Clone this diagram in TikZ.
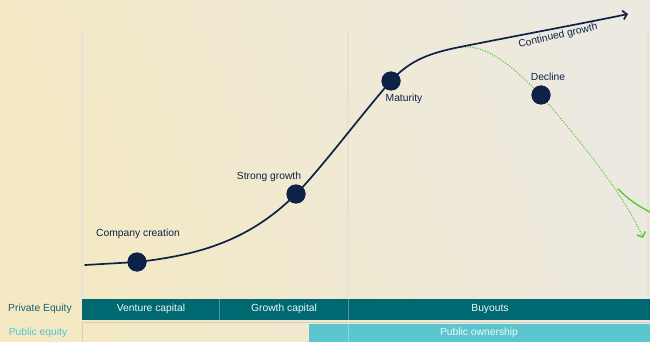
\documentclass[tikz,border=0pt]{standalone}
\usepackage{fontspec}
\setmainfont{Liberation Sans}
\usepackage{tikz}
\usetikzlibrary{arrows.meta}
\definecolor{navy}{HTML}{0D2246}
\definecolor{bgL}{HTML}{F4E9C3}
\definecolor{bgR}{HTML}{ECE9E1}
\definecolor{pecol}{HTML}{006871}
\definecolor{pubcol}{HTML}{5BC6CF}
\definecolor{pelbl}{HTML}{15607A}
\definecolor{publbl}{HTML}{4FC3D5}
\definecolor{lgreen}{HTML}{5CC83A}
\definecolor{grid}{HTML}{E6E2D6}
\definecolor{edge}{HTML}{D3CEC2}

\begin{document}
\begin{tikzpicture}[line cap=round,line join=round,x=1pt,y=-1pt,
  >={Straight Barb[length=4pt,width=9pt]},
  dot/.style={circle,fill=navy,inner sep=0pt,minimum size=19pt},
  lbl/.style={font=\fontsize{10.3}{12}\selectfont,text=navy},
  barlbl/.style={font=\fontsize{10.3}{12}\selectfont,text=white!90!pubcol},
  curve/.style={navy,line width=1.7pt},
  decl/.style={lgreen,line width=1.6pt,dash pattern=on 0.01pt off 2.6pt},
  vline/.style={grid,line width=1.4pt}]
\useasboundingbox (0,0) rectangle (650,342);
\shade[left color=bgL,right color=bgR,shading angle=110] (0,0) rectangle (650,342);

% stage lines
\draw[vline] (82,32) -- (82,298);
\draw[vline] (348,32) -- (348,298);
\draw[vline] (648,32) -- (648,298);

% life cycle
\coordinate (start) at (85,265);
\coordinate (fork) at (460,47);
\coordinate (top) at (628,14);
\coordinate (low) at (643,238);
\coordinate (side) at (618,189);
\coordinate (sideend) at (655,215);
\node[dot] (creation) at (137,262) {};
\node[dot] (growth) at (296,194) {};
\node[dot] (maturity) at (391,81) {};
\node[dot] (decline) at (541,95) {};

\draw[decl,->] (fork) .. controls (490,44) and (515,70) .. (decline.center)
  .. controls (575,135) and (625,195) .. (low);
\draw[lgreen,line width=1.4pt] (side) .. controls (632,202) .. (sideend);
\draw[curve] (start) -- (creation.center)
  .. controls (200,255) and (250,240) .. (growth.center)
  .. controls (320,170) and (365,110) .. (maturity.center)
  .. controls (410,60) and (430,53) .. (fork);
\draw[curve,->] (fork) .. controls (520,35) and (580,24) .. (top);
\node[dot] at (creation) {};
\node[dot] at (growth) {};
\node[dot] at (maturity) {};
\node[dot] at (decline) {};

\node[lbl] (creationlbl) at (138,234) {Company creation};
\node[lbl] (growthlbl) at (269,177) {Strong growth};
\node[lbl] (maturitylbl) at (404,99) {Maturity};
\node[lbl] (declinelbl) at (548,77) {Decline};
\node[lbl,rotate=13] (toplbl) at (558,36) {Continued growth};

% private equity row
\fill[pecol] (82,299) rectangle (650,320);
\draw[white,opacity=0.3,line width=0.8pt] (219,299) -- (219,320);
\draw[white,opacity=0.3,line width=0.8pt] (348,299) -- (348,320);
\node[lbl,text=pelbl] (pelbl) at (40,309) {Private Equity};
\node[barlbl] (venture) at (151,309) {Venture capital};
\node[barlbl] (growthcap) at (284,309) {Growth capital};
\node[barlbl] (buyouts) at (490,309) {Buyouts};

% public equity row
\draw[edge,line width=1.2pt] (82.6,322.6) rectangle (660,350);
\fill[pubcol] (309,324) rectangle (650,342);
\draw[white,opacity=0.3,line width=0.8pt] (348,324) -- (348,342);
\node[lbl,text=publbl] (publbl) at (38,333) {Public equity};
\node[barlbl] (ownership) at (479,333) {Public ownership};
\end{tikzpicture}
\end{document}
